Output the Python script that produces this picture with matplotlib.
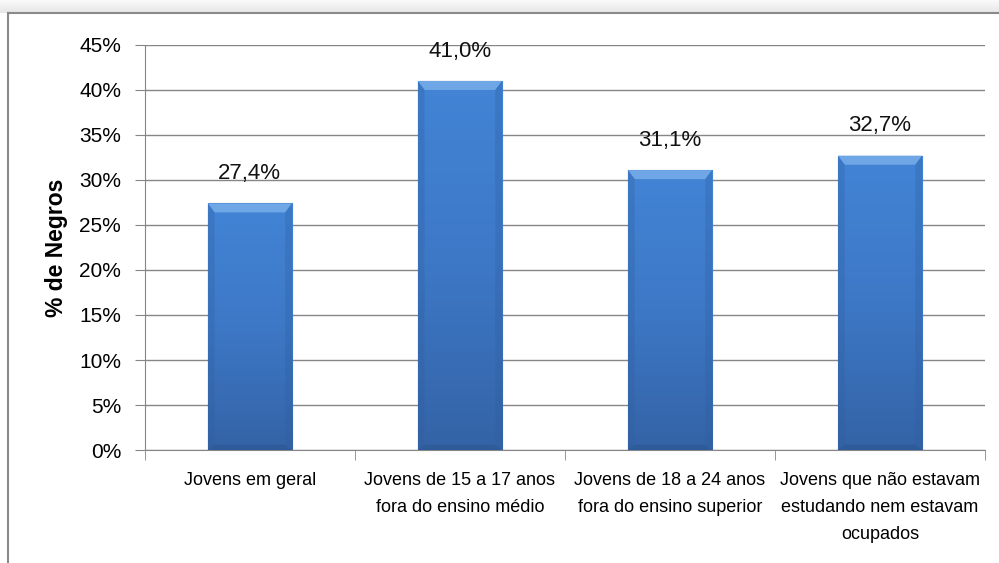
import matplotlib.pyplot as plt
import numpy as np
from matplotlib.patches import Polygon
from matplotlib.colors import LinearSegmentedColormap

# dados
categorias = ['Jovens em geral',
              'Jovens de 15 a 17 anos\nfora do ensino médio',
              'Jovens de 18 a 24 anos\nfora do ensino superior',
              'Jovens que não estavam\nestudando nem estavam\nocupados']
valores = [27.4, 41.0, 31.1, 32.7]
rotulos = ['27,4%', '41,0%', '31,1%', '32,7%']
yticks = [0, 5, 10, 15, 20, 25, 30, 35, 40, 45]

plt.rcParams['font.family'] = ['Liberation Sans', 'DejaVu Sans']

fig = plt.figure(figsize=(9.99, 5.63), dpi=100)

# sombra clara no topo
fundo = fig.add_axes([0, 0.977, 1, 0.023])
fundo.imshow(np.linspace(0, 1, 50).reshape(-1, 1), cmap=LinearSegmentedColormap.from_list(
    'cinza', ['#e6e6e6', '#fafafa']), aspect='auto', origin='lower', extent=[0, 1, 0, 1])
fundo.axis('off')

ax = fig.add_axes([0.145, 0.2007, 0.841, 0.7194])

x = np.arange(len(valores))
largura = 0.4
barras = ax.bar(x, valores, width=largura, color='#3A72C0', edgecolor='#2F5C9C',
                linewidth=0.8, zorder=3)

# gradiente e bisel nas barras
grad = np.linspace(0, 1, 256).reshape(-1, 1)
cmap = LinearSegmentedColormap.from_list('azul', ['#3463A6', '#3D78C6', '#4384D6'])
for b in barras:
    x0, w, h = b.get_x(), b.get_width(), b.get_height()
    im = ax.imshow(grad, extent=[x0, x0 + w, 0, h], origin='lower', cmap=cmap,
                   aspect='auto', zorder=3.1)
    im.set_clip_path(b)
    bev = 1.0
    dx = w * 0.08
    ax.add_patch(Polygon([[x0, h], [x0 + w, h], [x0 + w - dx, h - bev], [x0 + dx, h - bev]],
                         closed=True, facecolor='#6FA6E6', edgecolor='none', zorder=3.2))
    ax.add_patch(Polygon([[x0, 0], [x0 + w, 0], [x0 + w - dx, bev * 0.6], [x0 + dx, bev * 0.6]],
                         closed=True, facecolor='#2A5490', edgecolor='none', alpha=0.5, zorder=3.2))
    ax.add_patch(Polygon([[x0, h], [x0 + dx, h - bev], [x0 + dx, bev * 0.6], [x0, 0]],
                         closed=True, facecolor='#2F5E9E', edgecolor='none', alpha=0.3, zorder=3.2))
    ax.add_patch(Polygon([[x0 + w, h], [x0 + w - dx, h - bev], [x0 + w - dx, bev * 0.6], [x0 + w, 0]],
                         closed=True, facecolor='#2F5E9E', edgecolor='none', alpha=0.3, zorder=3.2))

for xi, v, r in zip(x, valores, rotulos):
    ax.annotate(r, (xi, v), xytext=(0, 14), textcoords='offset points',
                ha='center', va='bottom', fontsize=16, color='#111111')

ax.set_xlim(-0.5, len(valores) - 0.5)
ax.set_ylim(0, 45)
ax.set_yticks(yticks)
ax.set_yticklabels([f'{t}%' for t in yticks], fontsize=15)
ax.set_xticks(x)
ax.set_xticklabels(categorias, fontsize=13, linespacing=1.75)
ax.set_xticks(np.arange(len(valores) + 1) - 0.5, minor=True)
ax.tick_params(axis='x', which='major', length=0, pad=16)
ax.tick_params(axis='x', which='minor', length=7, color='#868686', direction='out')
ax.tick_params(axis='y', length=7, color='#868686', pad=10)
ax.yaxis.grid(True, color='#868686', linewidth=1)
ax.set_axisbelow(True)
for s in ['top', 'right']:
    ax.spines[s].set_visible(False)
ax.spines['left'].set_color('#868686')
ax.spines['bottom'].set_color('#868686')
ax.set_ylabel('% de Negros', fontsize=16.5, fontweight='bold', labelpad=8)

# moldura do gráfico
fig.add_artist(plt.Line2D([0.008, 1.0], [0.977, 0.977], color='#8a8a8a', linewidth=1.5,
                          transform=fig.transFigure))
fig.add_artist(plt.Line2D([0.008, 0.008], [0.0, 0.977], color='#8a8a8a', linewidth=1.5,
                          transform=fig.transFigure))

fig.savefig('out.png', dpi=100)
